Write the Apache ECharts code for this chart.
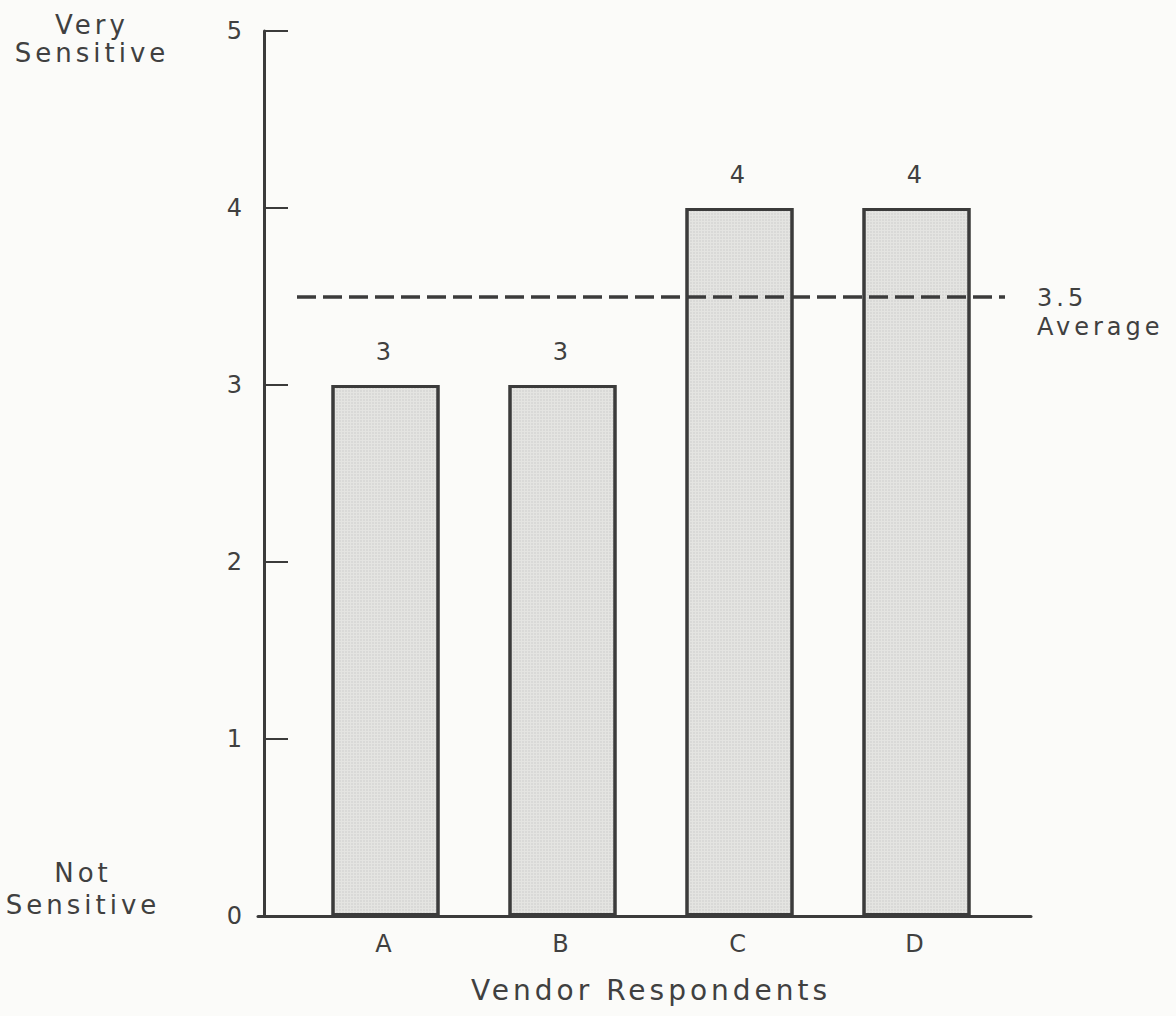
<!DOCTYPE html>
<html>
<head>
<meta charset="utf-8">
<script src="https://cdn.jsdelivr.net/npm/echarts@6/dist/echarts.min.js"></script>
<style>
  html, body { margin: 0; padding: 0; background: #fbfbf9; }
  #chart { width: 1176px; height: 1016px; }
  #chart text { letter-spacing: 4px; }
</style>
</head>
<body>
<div id="chart"></div>
<script>
const categories = ['A', 'B', 'C', 'D'];
const values = [3, 3, 4, 4];
const averageValue = 3.5;
const yTicks = [0, 1, 2, 3, 4, 5];
const xAxisTitle = 'Vendor Respondents';
const topLabel = ['Very', 'Sensitive'];
const bottomLabel = ['Not', 'Sensitive'];
const averageLabel = ['3.5', 'Average'];

const ink = '#3b3b3b';
const textColor = '#404040';
const font = 'DejaVu Sans';

const chart = echarts.init(document.getElementById('chart'), null, { renderer: 'svg' });
chart.setOption({
  backgroundColor: '#fbfbf9',
  animation: false,
  textStyle: { fontFamily: font },
  grid: [
    { left: 297, right: 171, top: 31, bottom: 100 },
    { left: 258, right: 145, top: 31, bottom: 100 }
  ],
  xAxis: [
    {
      type: 'category', gridIndex: 0, data: categories,
      axisLine: { show: false }, axisTick: { show: false },
      axisLabel: { color: textColor, fontSize: 24, margin: 16, fontFamily: font },
      name: xAxisTitle, nameLocation: 'middle', nameGap: 60,
      nameTextStyle: { color: textColor, fontSize: 28, fontFamily: font }
    },
    {
      type: 'value', gridIndex: 1, min: 0, max: 1,
      axisLine: { show: true, lineStyle: { color: ink, width: 3 } },
      axisTick: { show: false }, axisLabel: { show: false }, splitLine: { show: false }
    }
  ],
  yAxis: [
    {
      type: 'value', gridIndex: 0, min: yTicks[0], max: yTicks[yTicks.length - 1], interval: 1,
      offset: 33,
      axisLine: { show: true, lineStyle: { color: ink, width: 3 } },
      axisTick: { show: true, inside: true, length: 24, lineStyle: { color: ink, width: 2 } },
      axisLabel: { color: textColor, fontSize: 24, margin: 18, fontFamily: font },
      splitLine: { show: false }
    },
    {
      type: 'value', gridIndex: 1, min: 0, max: 5, show: false
    }
  ],
  series: [
    {
      type: 'bar', xAxisIndex: 0, yAxisIndex: 0,
      data: values, barWidth: 108,
      itemStyle: {
        color: '#e4e4e1', borderColor: ink, borderWidth: 3,
        decal: { symbol: 'rect', symbolSize: 0.5, dashArrayX: [2, 1], dashArrayY: [2, 1], color: 'rgba(110,110,110,0.35)' }
      },
      label: { show: true, position: 'top', distance: 21, color: textColor, fontSize: 24, fontFamily: font },
      markLine: {
        silent: true, symbol: 'none',
        lineStyle: { color: ink, width: 3.5, type: [19, 7] },
        label: {
          show: true, position: 'end', distance: 32,
          formatter: '{a|' + averageLabel[0] + '}\n{b|' + averageLabel[1] + '}',
          rich: {
            a: { fontSize: 24, color: textColor, fontFamily: font, lineHeight: 29 },
            b: { fontSize: 24, color: textColor, fontFamily: font, lineHeight: 29 }
          },
          align: 'left', verticalAlign: 'top', offset: [0, -13]
        },
        data: [{ yAxis: averageValue }]
      }
    }
  ],
  graphic: [
    { type: 'text', x: 92, y: 39, style: { text: topLabel.join('\n'), fill: textColor, font: '26px "DejaVu Sans"', align: 'center', verticalAlign: 'middle', lineHeight: 28 } },
    { type: 'text', x: 83, y: 889, style: { text: bottomLabel.join('\n'), fill: textColor, font: '26px "DejaVu Sans"', align: 'center', verticalAlign: 'middle', lineHeight: 32 } }
  ]
});
</script>
</body>
</html>
